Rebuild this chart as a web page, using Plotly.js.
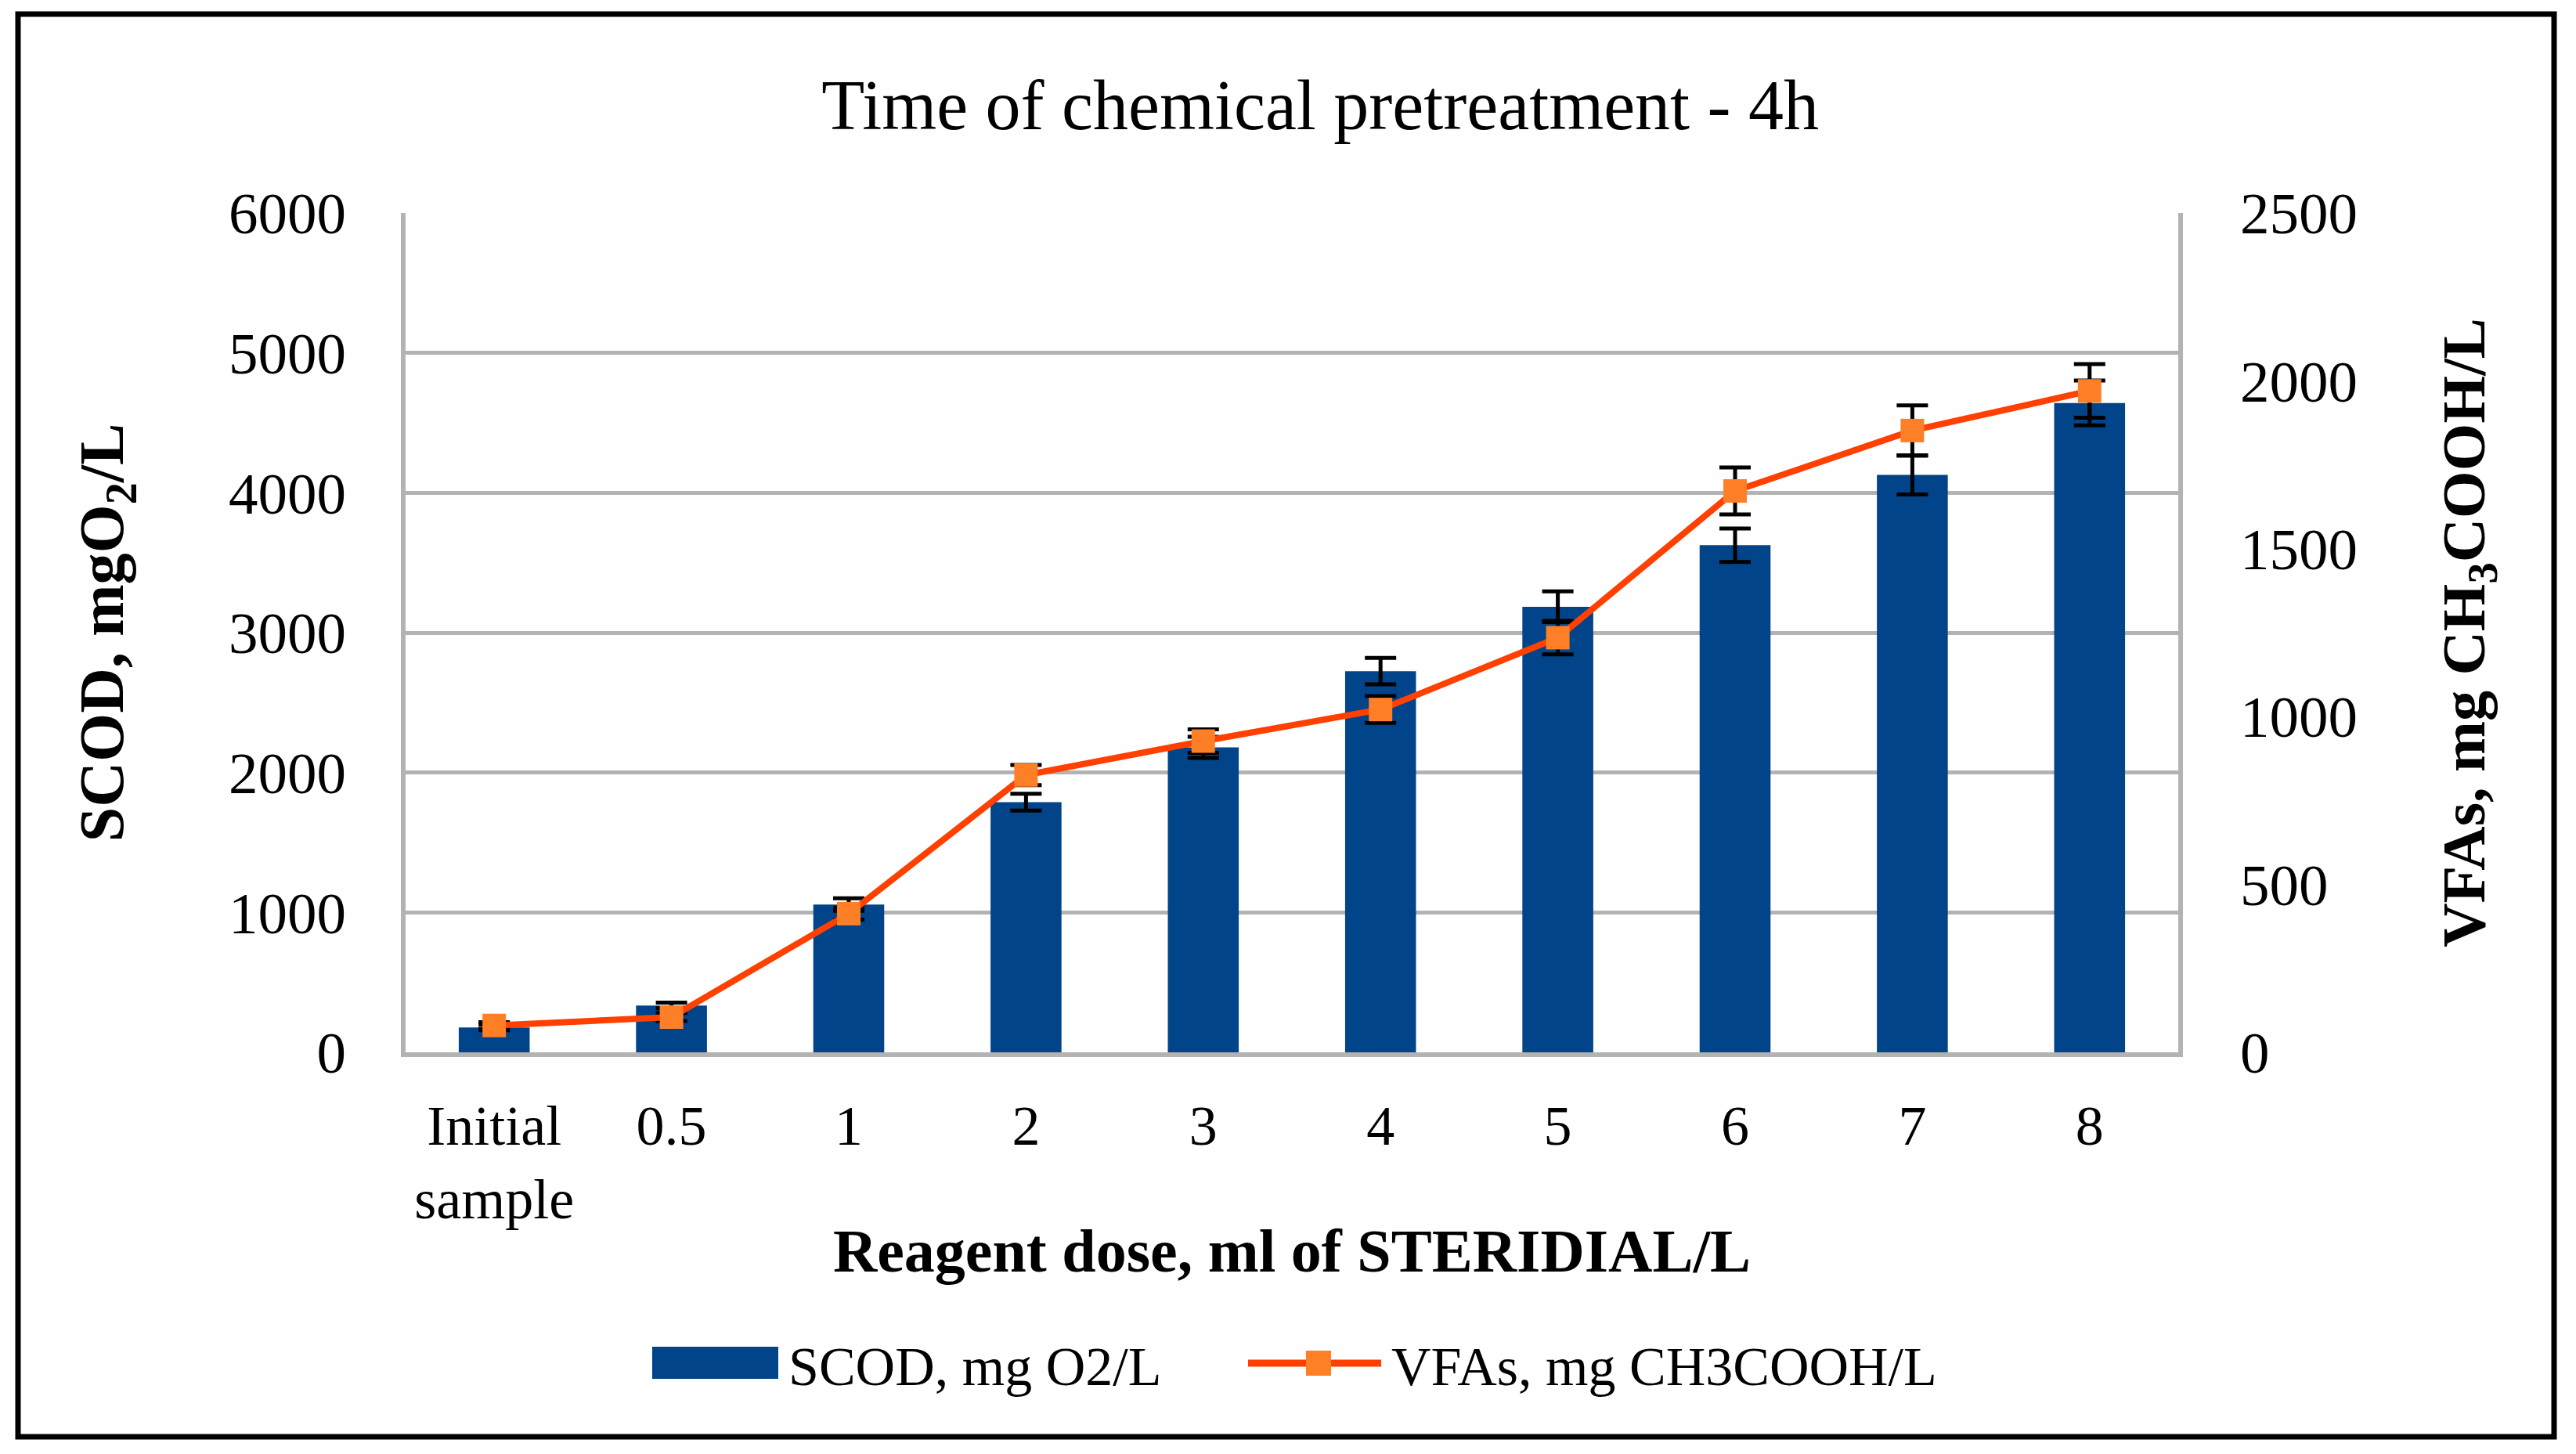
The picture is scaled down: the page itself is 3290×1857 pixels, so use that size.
<!DOCTYPE html>
<html>
<head>
<meta charset="utf-8">
<script src="https://cdn.plot.ly/plotly-3.0.1.min.js"></script>
<style>
html,body{margin:0;padding:0;background:#fff;}
#chart{width:3290px;height:1857px;}
</style>
</head>
<body>
<div id="chart"></div>
<script>
const categories = ["Initial<br>sample","0.5","1","2","3","4","5","6","7","8"];
const scodValues = [178, 335, 1056, 1788, 2180, 2725, 3185, 3625, 4128, 4642];
const scodErrors = [20, 20, 45, 60, 75, 95, 110, 120, 140, 160];
const vfaValues = [80, 105, 413, 826, 927, 1021, 1235, 1672, 1852, 1970];
const vfaErrors = [10, 12, 18, 30, 35, 40, 50, 70, 75, 80];
const scodName = "SCOD, mg O2/L";
const vfaName = "VFAs, mg CH3COOH/L";
const yTicks = [0,1000,2000,3000,4000,5000,6000];
const y2Ticks = [0,500,1000,1500,2000,2500];

const FONT = "Liberation Serif, Times New Roman, serif";
const BAR = "#01448A";
const LINE = "#FF4000";
const MARK = "#FF7F27";
const GRID = "#B3B3B3";

// plot-area pixel geometry (for paper-coordinate decorations)
const L = 518, R = 2782, T = 272, B = 1344;
const px = v => (v - L) / (R - L);
const py = v => (B - v) / (B - T);

const traces = [
  {
    type: "bar",
    name: scodName,
    x: categories,
    y: scodValues,
    marker: {color: BAR},
    error_y: {type: "data", array: scodErrors, visible: true, color: "#000", thickness: 5, width: 20},
    showlegend: false,
    yaxis: "y"
  },
  {
    type: "scatter",
    mode: "lines+markers",
    name: vfaName,
    x: categories,
    y: vfaValues,
    line: {color: LINE, width: 8},
    marker: {symbol: "square", size: 30, color: MARK},
    error_y: {type: "data", array: vfaErrors, visible: true, color: "#000", thickness: 5, width: 20},
    showlegend: false,
    yaxis: "y2"
  }
];

const layout = {
  width: 3290,
  height: 1857,
  paper_bgcolor: "#fff",
  plot_bgcolor: "#fff",
  margin: {l: L, r: 3290 - R, t: T, b: 1857 - B, pad: 0},
  font: {family: FONT, color: "#000", size: 72},
  bargap: 0.6,
  showlegend: false,
  title: {
    text: "Time of chemical pretreatment - 4h",
    font: {family: FONT, size: 90, color: "#000"},
    xref: "paper", x: 0.516, xanchor: "center",
    yref: "container", y: 1 - 133/1857, yanchor: "middle"
  },
  xaxis: {
    type: "category",
    range: [-0.5, categories.length - 0.5],
    showline: true, linecolor: GRID, linewidth: 6,
    showgrid: false, zeroline: false, ticks: "",
    tickfont: {family: FONT, size: 72, color: "#000"},
    ticklabelstandoff: 26,
    title: {text: "<b>Reagent dose, ml of STERIDIAL/L</b>", font: {family: FONT, size: 78, color: "#000"}, standoff: 0}
  },
  yaxis: {
    range: [0, 6000],
    tickvals: yTicks,
    ticktext: yTicks.map(String),
    showgrid: true, gridcolor: GRID, gridwidth: 5,
    showline: true, linecolor: GRID, linewidth: 6,
    zeroline: false, ticks: "",
    tickfont: {family: FONT, size: 75, color: "#000"},
    ticklabelstandoff: 55,
    title: {text: "<b>SCOD, mgO<sub>2</sub>/L</b>", font: {family: FONT, size: 80, color: "#000"}, standoff: 110}
  },
  yaxis2: {
    overlaying: "y",
    side: "right",
    range: [0, 2500],
    tickvals: y2Ticks,
    ticktext: y2Ticks.map(String),
    showgrid: false,
    showline: true, linecolor: GRID, linewidth: 6,
    zeroline: false, ticks: "",
    tickfont: {family: FONT, size: 75, color: "#000"},
    ticklabelstandoff: 58,
    title: {text: "<b>VFAs, mg CH<sub>3</sub>COOH/L</b>", font: {family: FONT, size: 78, color: "#000"}, standoff: 110}
  },
  shapes: [
    // outer frame
    {type: "rect", xref: "paper", yref: "paper", x0: px(23), x1: px(3262), y0: py(1835), y1: py(18),
     line: {color: "#000", width: 7}, fillcolor: "rgba(0,0,0,0)", layer: "below"},
    // legend: bar swatch
    {type: "rect", xref: "paper", yref: "paper", x0: px(833), x1: px(994), y0: py(1761), y1: py(1720),
     line: {width: 0}, fillcolor: BAR},
    // legend: line swatch
    {type: "line", xref: "paper", yref: "paper", x0: px(1594), x1: px(1764), y0: py(1741), y1: py(1741),
     line: {color: LINE, width: 9}},
    // legend: marker swatch
    {type: "rect", xref: "paper", yref: "paper", x0: px(1668), x1: px(1700), y0: py(1757), y1: py(1725),
     line: {width: 0}, fillcolor: MARK}
  ],
  annotations: [
    {xref: "paper", yref: "paper", x: px(1005), y: py(1745), xanchor: "left", yanchor: "middle",
     text: scodName, showarrow: false, font: {family: FONT, size: 70, color: "#000"}},
    {xref: "paper", yref: "paper", x: px(1775), y: py(1745), xanchor: "left", yanchor: "middle",
     text: vfaName, showarrow: false, font: {family: FONT, size: 70, color: "#000"}}
  ]
};

Plotly.newPlot("chart", traces, layout, {displayModeBar: false, staticPlot: true});
</script>
</body>
</html>
